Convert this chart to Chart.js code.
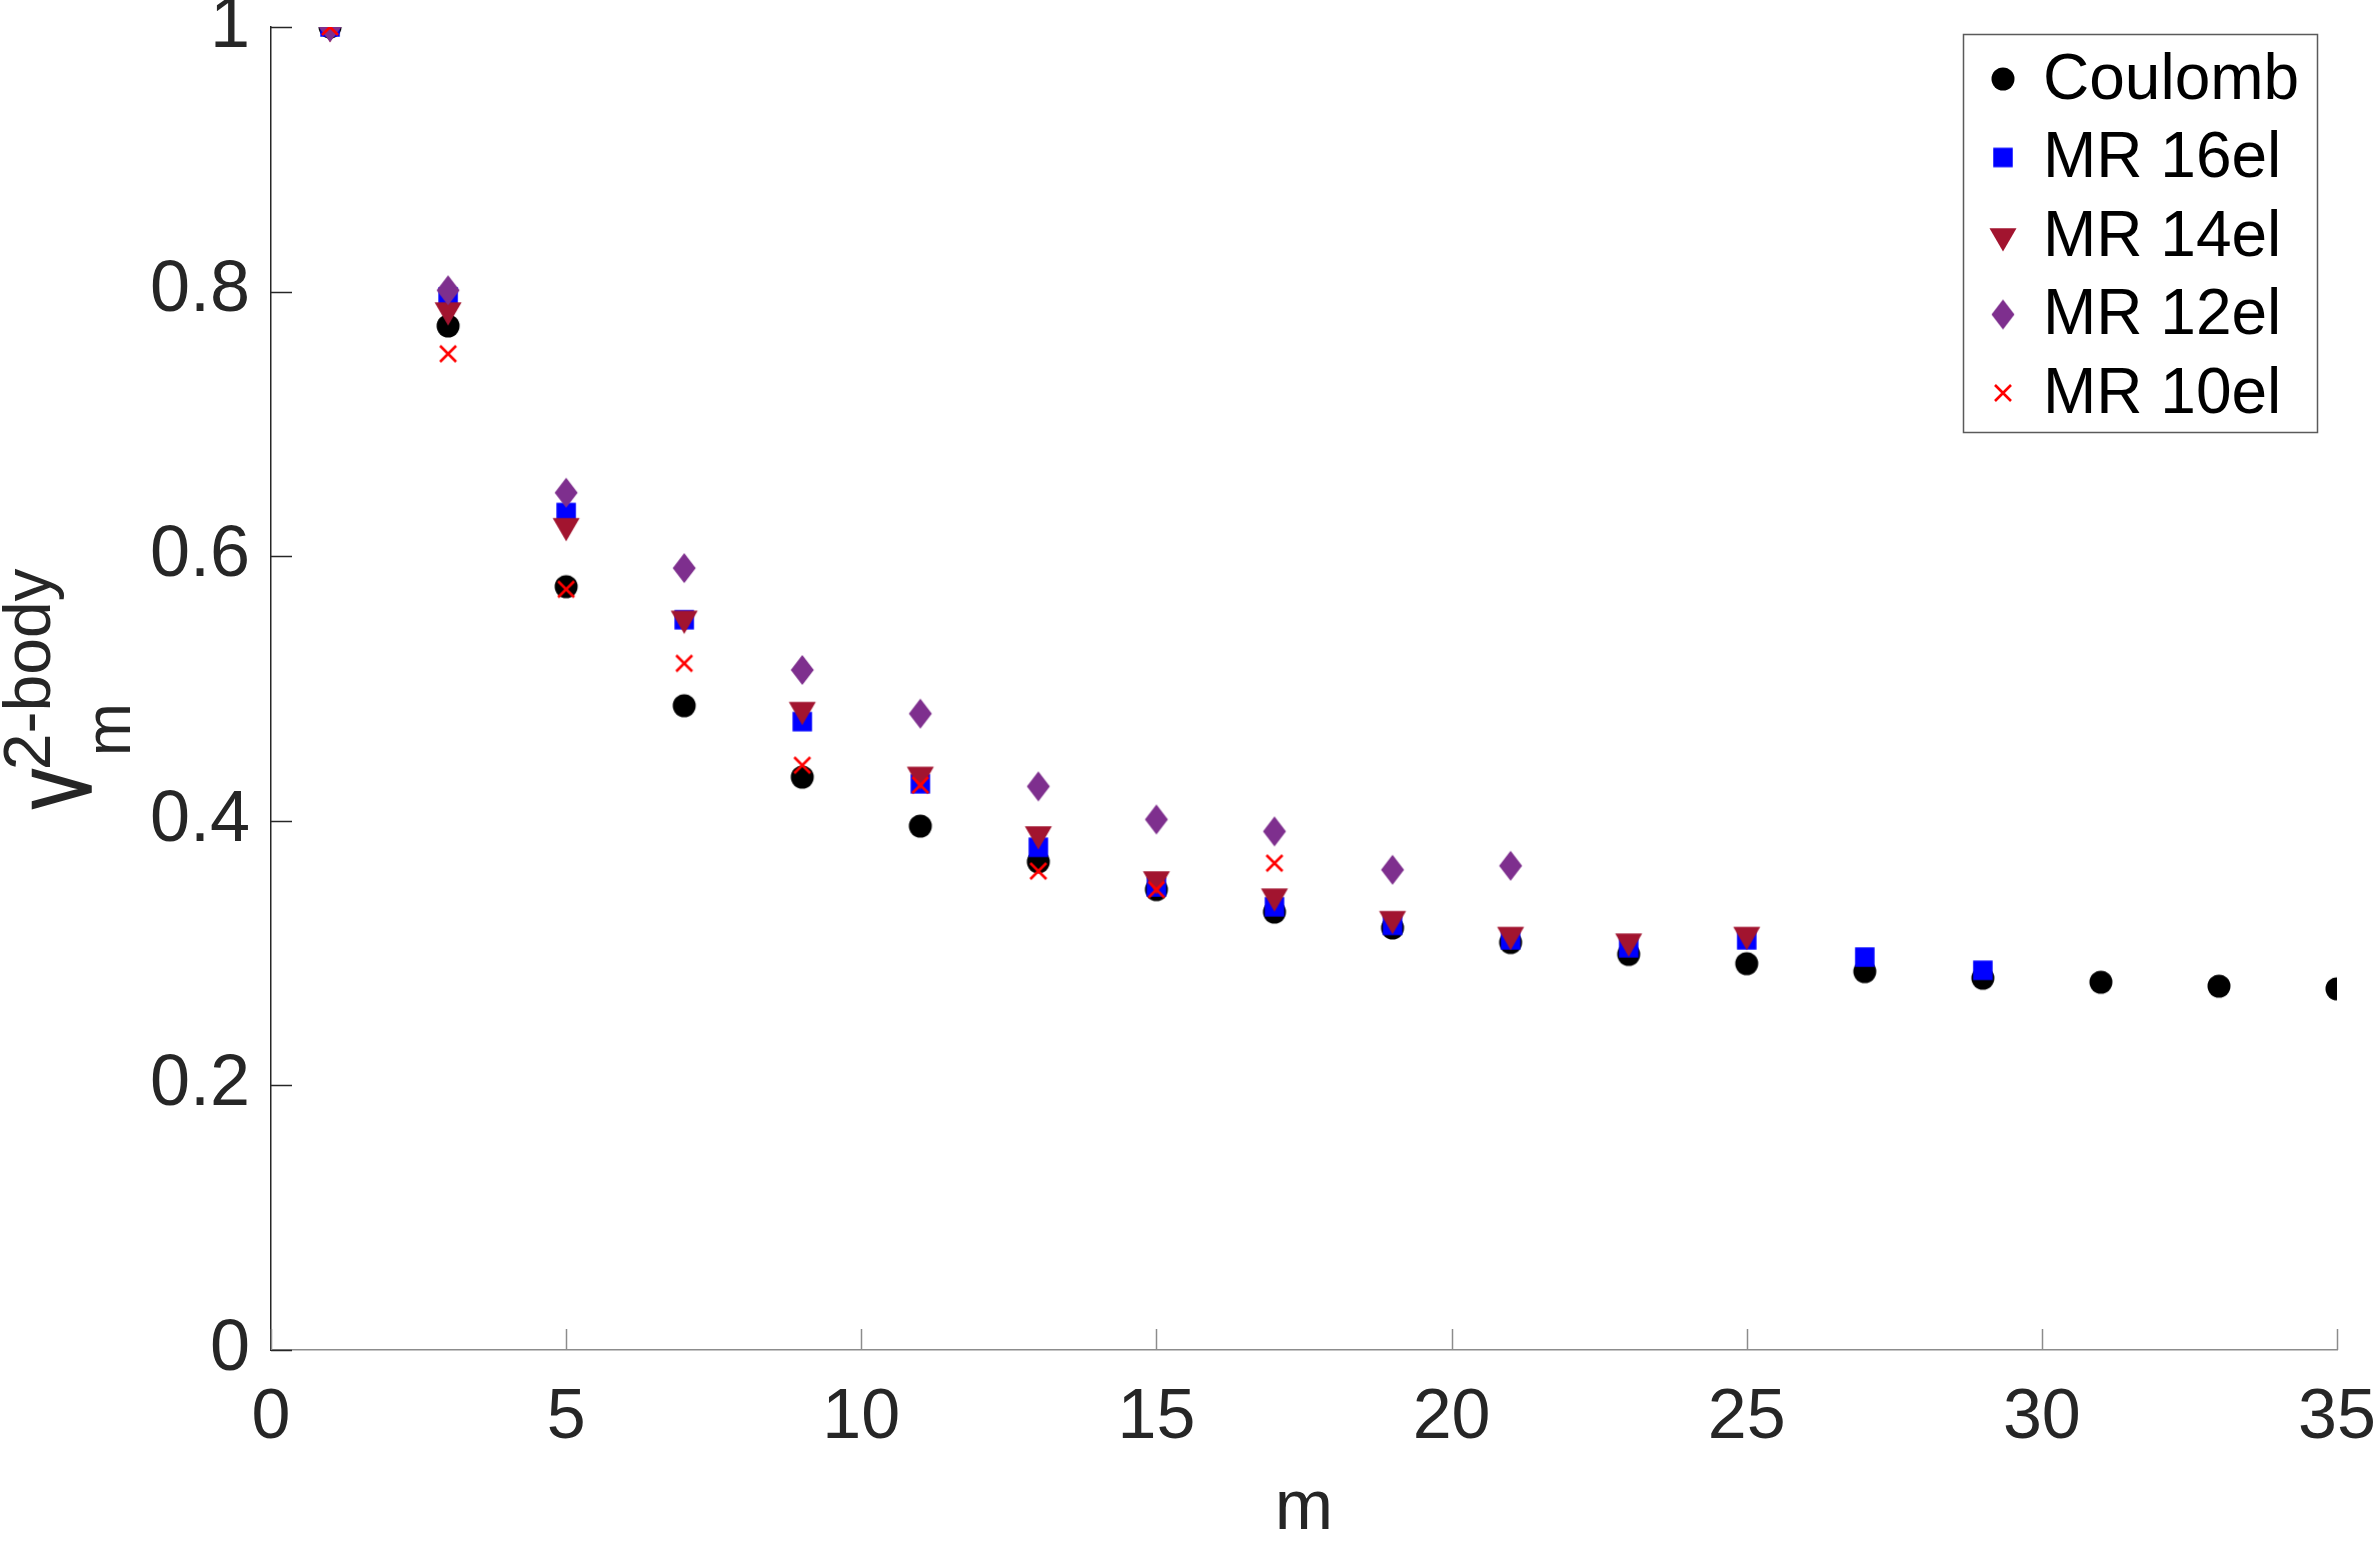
<!DOCTYPE html>
<html>
<head>
<meta charset="utf-8">
<title>V_m 2-body pseudopotentials</title>
<script src="https://cdn.jsdelivr.net/npm/chart.js@4.4.1/dist/chart.umd.min.js"></script>
<style>
  html, body { margin: 0; padding: 0; background: #ffffff; }
  canvas { display: block; }
</style>
</head>
<body>
<canvas id="chart" width="2379" height="1543"></canvas>
<script>
// ===========================
// Data
// ===========================

const mValues = [1, 3, 5, 7, 9, 11, 13, 15, 17, 19, 21, 23, 25, 27, 29, 31, 33, 35];

const coulomb = [1.0, 0.774, 0.577, 0.487, 0.433, 0.396, 0.369, 0.348, 0.331, 0.319, 0.308, 0.299, 0.292, 0.286, 0.281, 0.278, 0.275, 0.273];
const mr16el = [1.0, 0.796, 0.633, 0.552, 0.475, 0.428, 0.380, 0.350, 0.335, 0.321, 0.310, 0.304, 0.310, 0.297, 0.287];
const mr14el = [1.0, 0.786, 0.623, 0.553, 0.484, 0.435, 0.390, 0.356, 0.343, 0.326, 0.314, 0.309, 0.314];
const mr12el = [1.0, 0.801, 0.648, 0.591, 0.514, 0.481, 0.426, 0.401, 0.392, 0.363, 0.366];
const mr10el = [1.0, 0.753, 0.575, 0.519, 0.442, 0.427, 0.362, 0.348, 0.368];

const seriesNames = ["Coulomb", "MR 16el", "MR 14el", "MR 12el", "MR 10el"];
const seriesValues = [coulomb, mr16el, mr14el, mr12el, mr10el];

const xTicks = [0, 5, 10, 15, 20, 25, 30, 35];
const yTicks = [0, 0.2, 0.4, 0.6, 0.8, 1];
const yTickLabels = ["0", "0.2", "0.4", "0.6", "0.8", "1"];

// ===========================
// Marker sprites (MATLAB-like)
// ===========================

const FONT = "'Liberation Sans', Arial, Helvetica, sans-serif";
const AXIS_TEXT = "#262626";

function makeMarker(shape, color) {
  const c = document.createElement("canvas");
  c.width = 36;
  c.height = 36;
  const g = c.getContext("2d");
  const cx = 18, cy = 18;
  g.fillStyle = color;
  g.strokeStyle = color;
  g.beginPath();
  if (shape === "circle") {
    g.arc(cx, cy, 11.5, 0, Math.PI * 2);
    g.fill();
  } else if (shape === "square") {
    g.rect(cx - 9.75, cy - 9.75, 19.5, 19.5);
    g.fill();
  } else if (shape === "triangleDown") {
    // centroid at the sprite centre
    g.moveTo(cx - 13.5, cy - 7.8);
    g.lineTo(cx + 13.5, cy - 7.8);
    g.lineTo(cx, cy + 15.6);
    g.closePath();
    g.fill();
  } else if (shape === "diamond") {
    g.moveTo(cx, cy - 15);
    g.lineTo(cx + 11.5, cy);
    g.lineTo(cx, cy + 15);
    g.lineTo(cx - 11.5, cy);
    g.closePath();
    g.fill();
  } else if (shape === "x") {
    g.lineWidth = 2.6;
    g.moveTo(cx - 8, cy - 8);
    g.lineTo(cx + 8, cy + 8);
    g.moveTo(cx + 8, cy - 8);
    g.lineTo(cx - 8, cy + 8);
    g.stroke();
  }
  return c;
}

const markers = [
  makeMarker("circle", "#000000"),
  makeMarker("square", "#0000ff"),
  makeMarker("triangleDown", "#a2142f"),
  makeMarker("diamond", "#7e2f8e"),
  makeMarker("x", "#ff0000"),
];

// ===========================
// Datasets
// ===========================

const datasets = seriesNames.map((name, i) => ({
  label: name,
  data: seriesValues[i].map((v, k) => ({ x: mValues[k], y: v })),
  pointStyle: markers[i],
  pointRadius: 12,
  pointHoverRadius: 12,
  showLine: false,
  // Coulomb drawn first (bottom), MR 10el last (top)
  order: seriesNames.length - i,
}));

// ===========================
// Plugins: inward ticks, y title, boxed legend
// ===========================

const matlabFrame = {
  id: "matlabFrame",
  beforeDatasetsDraw(chart) {
    const { ctx, chartArea: a, scales } = chart;
    ctx.save();
    ctx.lineWidth = 1.5;
    ctx.strokeStyle = AXIS_TEXT;
    yTicks.forEach((v) => {
      const py = Math.round(scales.y.getPixelForValue(v)) + 0.5;
      ctx.beginPath();
      ctx.moveTo(a.left, py);
      ctx.lineTo(a.left + 21, py);
      ctx.stroke();
    });
    ctx.strokeStyle = "#8c8c8c";
    xTicks.forEach((v) => {
      const px = Math.round(scales.x.getPixelForValue(v)) + 0.5;
      ctx.beginPath();
      ctx.moveTo(px, a.bottom);
      ctx.lineTo(px, a.bottom - 21);
      ctx.stroke();
    });
    ctx.restore();
  },
  afterDraw(chart) {
    const { ctx } = chart;

    // y-axis title: V^{2-body}_m (rotated, reads bottom to top)
    ctx.save();
    ctx.translate(90, 808);
    ctx.rotate(-Math.PI / 2);
    ctx.fillStyle = AXIS_TEXT;
    ctx.strokeStyle = AXIS_TEXT;
    ctx.textBaseline = "alphabetic";
    ctx.textAlign = "left";
    ctx.font = "81px " + FONT;
    const squeeze = 0.7;
    ctx.save();
    ctx.scale(squeeze, 1);
    ctx.lineWidth = 3.5;
    ctx.lineJoin = "miter";
    ctx.fillText("V", 0, 0);
    ctx.strokeText("V", 0, 0);
    ctx.restore();
    const vw = ctx.measureText("V").width * squeeze;
    ctx.font = "66px " + FONT;
    ctx.fillText("2-body", vw, -40);
    ctx.font = "64px " + FONT;
    ctx.fillText("m", vw + 14, 40);
    ctx.restore();

    // legend box
    const box = { left: 1963, top: 34, right: 2317, bottom: 432 };
    ctx.save();
    ctx.fillStyle = "#ffffff";
    ctx.fillRect(box.left, box.top, box.right - box.left, box.bottom - box.top);
    ctx.strokeStyle = "#5a5a5a";
    ctx.lineWidth = 1.5;
    ctx.strokeRect(box.left + 0.5, box.top + 0.5, box.right - box.left, box.bottom - box.top);
    ctx.font = "64px " + FONT;
    ctx.fillStyle = "#000000";
    ctx.textBaseline = "middle";
    ctx.textAlign = "left";
    chart.data.datasets.forEach((ds, i) => {
      const rowY = 79 + i * 78.5;
      const img = ds.pointStyle;
      ctx.drawImage(img, 2003 - img.width / 2, rowY - img.height / 2);
      ctx.fillText(ds.label, 2043, rowY + 2);
    });
    ctx.restore();
  },
};

// ===========================
// Chart
// ===========================

const ctx = document.getElementById("chart").getContext("2d");

new Chart(ctx, {
  type: "scatter",
  data: { datasets },
  options: {
    responsive: false,
    devicePixelRatio: 1,
    animation: false,
    layout: {
      padding: { left: 0, right: 42, top: 27, bottom: 0 },
    },
    plugins: {
      legend: { display: false },
      tooltip: { enabled: false },
    },
    scales: {
      x: {
        type: "linear",
        min: 0,
        max: 35,
        afterBuildTicks: (scale) => {
          scale.ticks = xTicks.map((v) => ({ value: v }));
        },
        afterFit: (scale) => {
          scale.height = 193;
          scale.paddingLeft = 0;
          scale.paddingRight = 0;
        },
        grid: { display: false, drawTicks: false },
        border: { display: true, color: "#8c8c8c", width: 1.5 },
        ticks: {
          padding: 27,
          color: AXIS_TEXT,
          maxRotation: 0,
          autoSkip: false,
          font: { family: FONT, size: 70 },
        },
        title: {
          display: true,
          text: "m",
          color: AXIS_TEXT,
          font: { family: FONT, size: 70, lineHeight: 0.95 },
          padding: { top: 0, bottom: 0 },
        },
      },
      y: {
        type: "linear",
        min: 0,
        max: 1,
        afterBuildTicks: (scale) => {
          scale.ticks = yTicks.map((v) => ({ value: v }));
        },
        afterFit: (scale) => {
          scale.width = 271;
          scale.paddingTop = 0;
          scale.paddingBottom = 0;
        },
        grid: { display: false, drawTicks: false },
        border: { display: true, color: AXIS_TEXT, width: 1.5 },
        ticks: {
          padding: 21,
          color: AXIS_TEXT,
          autoSkip: false,
          font: { family: FONT, size: 72 },
          callback: (v) => {
            const k = yTicks.indexOf(v);
            return k >= 0 ? yTickLabels[k] : "";
          },
        },
      },
    },
  },
  plugins: [matlabFrame],
});
</script>
</body>
</html>
